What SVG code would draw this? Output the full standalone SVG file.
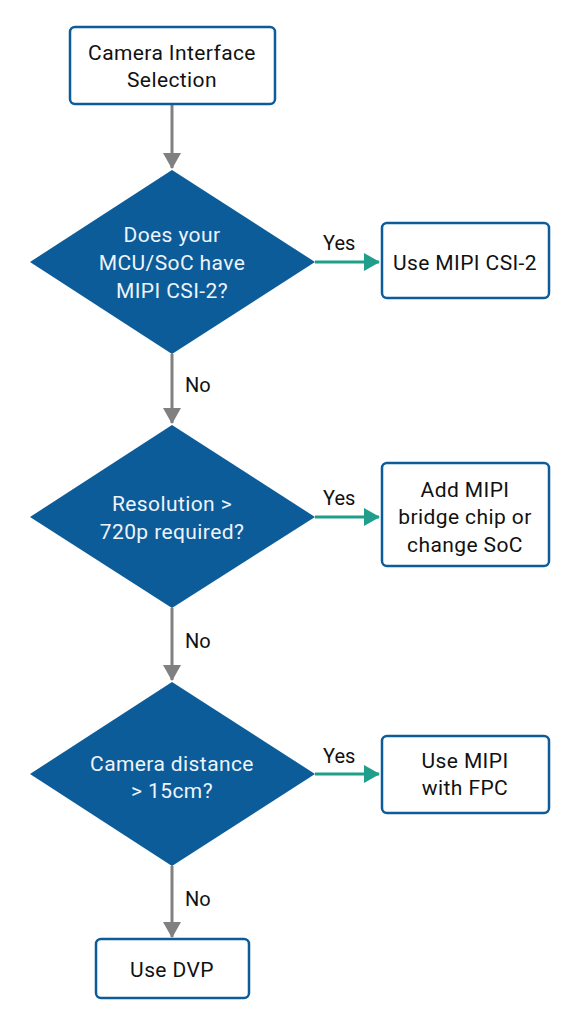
<svg xmlns="http://www.w3.org/2000/svg" width="572" height="1024" viewBox="0 0 572 1024">
<defs>
<style>
.box{fill:#ffffff;stroke:#0c5c99;stroke-width:2.5}
.dia{fill:#0c5c99}
.t{font-family:Roboto,"Liberation Sans",sans-serif;font-size:21px;letter-spacing:0.4px;fill:#111;text-anchor:middle}
.tw{font-family:Roboto,"Liberation Sans",sans-serif;font-size:21px;letter-spacing:0.4px;fill:#eef4fa;text-anchor:middle}
.lbl{font-family:Roboto,"Liberation Sans",sans-serif;font-size:20px;fill:#111}
.g{stroke:#808080;stroke-width:3;fill:none}
.y{stroke:#1f9e8c;stroke-width:3;fill:none}
</style>
<marker id="ag" markerWidth="6" markerHeight="6" refX="5" refY="3" orient="auto" markerUnits="strokeWidth"><path d="M0,0 L5.3,3 L0,6 Z" fill="#808080"/></marker>
<marker id="ay" markerWidth="6" markerHeight="6" refX="5" refY="3" orient="auto" markerUnits="strokeWidth"><path d="M0,0 L5.3,3 L0,6 Z" fill="#1f9e8c"/></marker>
</defs>
<rect width="572" height="1024" fill="#ffffff"/>
<g id="connectors">
<line class="g" x1="172" y1="104" x2="172" y2="168" marker-end="url(#ag)"/>
<line class="y" x1="315" y1="262" x2="379" y2="262" marker-end="url(#ay)"/>
<line class="g" x1="172" y1="354" x2="172" y2="423" marker-end="url(#ag)"/>
<line class="y" x1="315" y1="517" x2="379" y2="517" marker-end="url(#ay)"/>
<line class="g" x1="172" y1="608" x2="172" y2="680" marker-end="url(#ag)"/>
<line class="y" x1="315" y1="774" x2="379" y2="774" marker-end="url(#ay)"/>
<line class="g" x1="172" y1="866" x2="172" y2="937" marker-end="url(#ag)"/>
<text class="lbl" x="323" y="250">Yes</text>
<text class="lbl" x="185" y="392">No</text>
<text class="lbl" x="323" y="505">Yes</text>
<text class="lbl" x="185" y="648">No</text>
<text class="lbl" x="323" y="763">Yes</text>
<text class="lbl" x="185" y="906">No</text>
</g>
<g id="start">
<rect class="box" x="70" y="27" width="205" height="77" rx="5"/>
<text class="t" x="172" y="60">Camera Interface</text>
<text class="t" x="172" y="87">Selection</text>
</g>
<g id="q1">
<polygon class="dia" points="172,170 315,262 172,354 30,262"/>
<text class="tw" x="172" y="242">Does your</text>
<text class="tw" x="172" y="270">MCU/SoC have</text>
<text class="tw" x="172" y="298">MIPI CSI-2?</text>
</g>
<g id="csi2">
<rect class="box" x="382" y="223" width="167" height="75" rx="5"/>
<text class="t" x="465" y="270">Use MIPI CSI-2</text>
</g>
<g id="q2">
<polygon class="dia" points="172,425 315,517 172,608 30,517"/>
<text class="tw" x="172" y="511">Resolution &gt;</text>
<text class="tw" x="172" y="539">720p required?</text>
</g>
<g id="bridge">
<rect class="box" x="382" y="463" width="167" height="103" rx="5"/>
<text class="t" x="465" y="497">Add MIPI</text>
<text class="t" x="465" y="524">bridge chip or</text>
<text class="t" x="465" y="552">change SoC</text>
</g>
<g id="q3">
<polygon class="dia" points="172,682 315,774 172,866 30,774"/>
<text class="tw" x="172" y="771">Camera distance</text>
<text class="tw" x="172" y="798">&gt; 15cm?</text>
</g>
<g id="fpc">
<rect class="box" x="382" y="736" width="167" height="77" rx="5"/>
<text class="t" x="465" y="768">Use MIPI</text>
<text class="t" x="465" y="795">with FPC</text>
</g>
<g id="dvp">
<rect class="box" x="96" y="939" width="153" height="59" rx="5"/>
<text class="t" x="172" y="977">Use DVP</text>
</g>
</svg>
